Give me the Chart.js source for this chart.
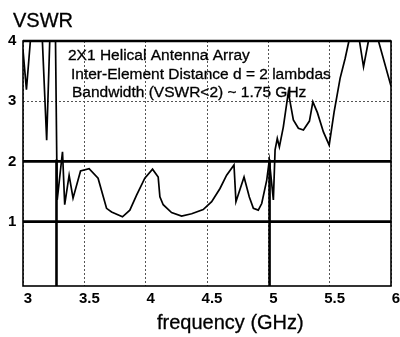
<!DOCTYPE html>
<html>
<head>
<meta charset="utf-8">
<script src="https://cdn.jsdelivr.net/npm/chart.js@4.4.1/dist/chart.umd.min.js"></script>
<style>
  html, body { margin: 0; padding: 0; background: #fff; }
</style>
</head>
<body>
<canvas id="vswrChart" width="400" height="337"></canvas>
<script>
// ---- data ----
const freq = [3.000, 3.028, 3.060, 3.110, 3.158, 3.193, 3.218, 3.242, 3.265, 3.279,
              3.322, 3.340, 3.376, 3.408, 3.469, 3.539, 3.612, 3.681, 3.722, 3.811,
              3.871, 3.926, 3.993, 4.056, 4.102, 4.116, 4.143, 4.211, 4.293, 4.375,
              4.469, 4.538, 4.606, 4.660, 4.720, 4.736, 4.802, 4.845, 4.878, 4.918,
              4.946, 4.987, 5.008, 5.041, 5.055, 5.073, 5.090, 5.122, 5.163, 5.204,
              5.245, 5.286, 5.335, 5.363, 5.400, 5.449, 5.496, 5.536, 5.585, 5.626,
              5.657, 5.700, 5.743, 5.776, 5.816, 5.857, 5.898, 6.000];
const vswr = [3.85, 3.19, 4.00, 4.60, 4.00, 2.35, 4.00, 4.60, 4.00, 1.36,
              2.16, 1.28, 1.77, 1.39, 1.84, 1.88, 1.72, 1.22, 1.16, 1.08,
              1.19, 1.44, 1.72, 1.87, 1.74, 1.41, 1.28, 1.15, 1.09, 1.13,
              1.20, 1.33, 1.55, 1.77, 1.94, 1.33, 1.74, 1.41, 1.22, 1.19,
              1.30, 1.69, 2.02, 1.36, 2.19, 2.38, 2.24, 2.57, 3.15, 2.69,
              2.55, 2.52, 2.67, 2.99, 2.81, 2.49, 2.27, 2.82, 3.38, 3.71,
              4.00, 4.60, 4.00, 3.57, 4.00, 4.60, 4.00, 3.25];
const refLevels = [1, 2];          // solid horizontal lines
const bandEdges = [3.273, 5.01];   // VSWR<2 band limits
const bandTop   = 2.03;
const xTicks = [3, 3.5, 4, 4.5, 5, 5.5, 6];
const yTicks = [1, 2, 3, 4];
const X_MIN = 3, X_MAX = 6, Y_MIN = -0.07, Y_MAX = 4;
const yLabel = 'VSWR';
const xLabel = 'frequency (GHz)';
const noteLines = [
  '2X1 Helical Antenna Array',
  'Inter-Element Distance d = 2 lambdas',
  'Bandwidth (VSWR<2) ~ 1.75 GHz'
];

const FONT = '"Liberation Sans", Arial, sans-serif';

// ---- datasets ----
const datasets = [{
  data: freq.map((f, i) => ({ x: f, y: vswr[i] })),
  borderColor: '#000',
  borderWidth: 1.7,
  pointRadius: 0,
  tension: 0
}];
refLevels.forEach(lv => datasets.push({
  data: [{ x: X_MIN, y: lv }, { x: X_MAX, y: lv }],
  borderColor: '#000', borderWidth: 2.6, pointRadius: 0
}));
bandEdges.forEach(f => datasets.push({
  data: [{ x: f, y: Y_MIN }, { x: f, y: bandTop }],
  borderColor: '#000', borderWidth: 2.6, pointRadius: 0
}));

// frame + free text
const decorPlugin = {
  id: 'decor',
  afterDatasetsDraw(chart) {
    const { ctx, chartArea: a } = chart;
    ctx.save();
    ctx.strokeStyle = '#000';
    ctx.lineWidth = 1.6;
    ctx.strokeRect(a.left, a.top, a.right - a.left, a.bottom - a.top);
    ctx.beginPath();
    ctx.lineWidth = 2.4;
    ctx.moveTo(a.left, a.top); ctx.lineTo(a.right, a.top);
    ctx.stroke();

    ctx.fillStyle = '#000';
    ctx.strokeStyle = '#000';
    ctx.lineWidth = 0.3;
    ctx.textBaseline = 'alphabetic';
    ctx.textAlign = 'left';
    ctx.font = '15.5px ' + FONT;
    const noteX = [68, 71, 72], noteY = [60, 79, 97];
    noteLines.forEach((t, i) => {
      ctx.fillText(t, noteX[i], noteY[i]);
      ctx.strokeText(t, noteX[i], noteY[i]);
    });

    ctx.font = '20px ' + FONT;
    ctx.fillText(yLabel, 13, 27);
    ctx.strokeText(yLabel, 13, 27);
    ctx.fillText(xLabel, 157, 329);
    ctx.strokeText(xLabel, 157, 329);
    ctx.restore();
  }
};

new Chart(document.getElementById('vswrChart'), {
  type: 'line',
  data: { datasets },
  options: {
    responsive: false,
    animation: false,
    layout: { padding: { top: 41, right: 9, left: 8, bottom: 0 } },
    plugins: { legend: { display: false }, tooltip: { enabled: false } },
    scales: {
      x: {
        type: 'linear', min: X_MIN, max: X_MAX,
        afterBuildTicks: s => { s.ticks = xTicks.map(v => ({ value: v })); },
        afterFit: s => { s.height = 51; },
        grid: { color: '#555', lineWidth: 1, drawTicks: false },
        border: { display: false, dash: [2, 2] },
        ticks: {
          color: '#000', font: { family: FONT, size: 15, weight: 'bold' },
          padding: 4, labelOffset: 5, maxRotation: 0, autoSkip: false,
          callback: v => String(v)
        }
      },
      y: {
        min: Y_MIN, max: Y_MAX,
        afterBuildTicks: s => { s.ticks = yTicks.map(v => ({ value: v })); },
        afterFit: s => { s.width = 15; },
        grid: { color: '#555', lineWidth: 1, drawTicks: false },
        border: { display: false, dash: [2, 2] },
        ticks: {
          color: '#000', font: { family: FONT, size: 15, weight: 'bold' },
          padding: 0, crossAlign: 'far',
          callback: v => String(v)
        }
      }
    }
  },
  plugins: [decorPlugin]
});
</script>
</body>
</html>
